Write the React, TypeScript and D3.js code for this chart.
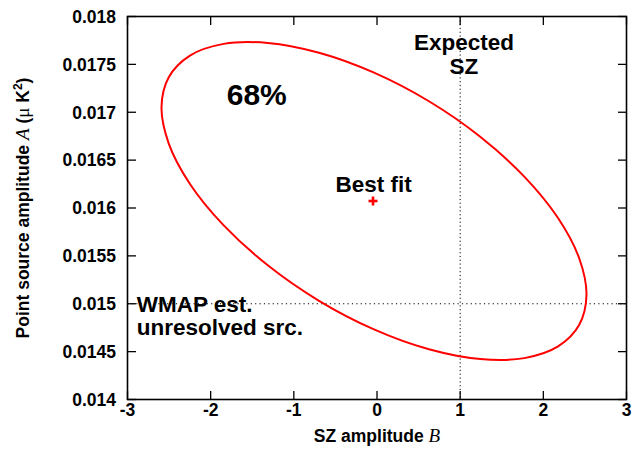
import React from "react";
import * as d3 from "d3";

const xTicks = [-3, -2, -1, 0, 1, 2, 3];
const xTickLabels = ["-3", "-2", "-1", "0", "1", "2", "3"];
const yTicks = [0.014, 0.0145, 0.015, 0.0155, 0.016, 0.0165, 0.017, 0.0175, 0.018];
const yTickLabels = ["0.014", "0.0145", "0.015", "0.0155", "0.016", "0.0165", "0.017", "0.0175", "0.018"];

// 68% contour, points (B, A)
const contourB = [
  2.519, 2.432, 2.177, 1.771, 1.2415, 0.625, -0.036, -0.697, -1.3135, -1.843, -2.249, -2.504,
  -2.591, -2.504, -2.249, -1.843, -1.3135, -0.697, -0.036, 0.625, 1.2415, 1.771, 2.177, 2.432,
];
const contourA = [
  0.015093, 0.015473, 0.015895, 0.016328, 0.016744, 0.017115, 0.017414, 0.017622, 0.017724,
  0.017714, 0.017592, 0.017366, 0.017053, 0.016673, 0.016251, 0.015818, 0.015402, 0.015031,
  0.014732, 0.014524, 0.014422, 0.014432, 0.014554, 0.01478,
];

const bestFitB = -0.048;
const bestFitA = 0.016073;
const expectedSZ = 1;
const wmapA = 0.015;

const W = 636;
const H = 454;
const left = 127.5;
const right = 626.5;
const top = 16.5;
const bottom = 399.5;

const font = "'Liberation Sans', Arial, Helvetica, sans-serif";
const serif = "'Liberation Serif', 'Times New Roman', serif";

export default function App() {
  const x = d3.scaleLinear().domain([-3, 3]).range([left, right]);
  const y = d3.scaleLinear().domain([0.014, 0.018]).range([bottom, top]);

  const pts: [number, number][] = contourB.map((b, i) => [x(b), y(contourA[i])]);
  const path = d3.line().curve(d3.curveCatmullRomClosed.alpha(0.5))(pts) || "";

  const tickLen = 8.5;
  const bx = x(bestFitB);
  const by = y(bestFitA);

  return (
    <svg width={W} height={H} style={{ position: "absolute", left: 0, top: 0, background: "#fff" }}>
      <rect x={0} y={0} width={W} height={H} fill="#fff" />
      {/* dotted reference lines */}
      <line x1={x(expectedSZ)} x2={x(expectedSZ)} y1={top} y2={bottom} stroke="#000" strokeWidth={1} strokeDasharray="1.2,2.6" />
      <line x1={left} x2={right} y1={y(wmapA)} y2={y(wmapA)} stroke="#000" strokeWidth={1} strokeDasharray="1.2,3.2" />

      {/* ticks */}
      {xTicks.map((t) => (
        <g key={"xt" + t}>
          <line x1={x(t)} x2={x(t)} y1={bottom} y2={bottom - tickLen} stroke="#000" strokeWidth={1.3} />
          <line x1={x(t)} x2={x(t)} y1={top} y2={top + tickLen} stroke="#000" strokeWidth={1.3} />
        </g>
      ))}
      {yTicks.map((t) => (
        <g key={"yt" + t}>
          <line x1={left} x2={left + tickLen} y1={y(t)} y2={y(t)} stroke="#000" strokeWidth={1.3} />
          <line x1={right} x2={right - tickLen} y1={y(t)} y2={y(t)} stroke="#000" strokeWidth={1.3} />
        </g>
      ))}

      {/* frame */}
      <rect x={left} y={top} width={right - left} height={bottom - top} fill="none" stroke="#000" strokeWidth={1.6} />

      {/* tick labels */}
      {xTicks.map((t, i) => (
        <text key={"xl" + t} x={x(t)} y={415.5} textAnchor="middle" fontFamily={font} fontWeight="bold" fontSize={17.5} fill="#000">
          {xTickLabels[i]}
        </text>
      ))}
      {yTicks.map((t, i) => (
        <text key={"yl" + t} x={116} y={y(t) + 6.3} textAnchor="end" fontFamily={font} fontWeight="bold" fontSize={17.5} fill="#000">
          {yTickLabels[i]}
        </text>
      ))}

      {/* axis titles */}
      <text x={(left + right) / 2} y={442} textAnchor="middle" fontFamily={font} fontWeight="bold" fontSize={17.5} fill="#000">
        SZ amplitude <tspan fontFamily={serif} fontStyle="italic" fontWeight="normal" fontSize={19}>B</tspan>
      </text>
      <text
        transform={`translate(29,${(top + bottom) / 2}) rotate(-90)`}
        textAnchor="middle"
        fontFamily={font}
        fontWeight="bold"
        fontSize={17.5}
        fill="#000"
      >
        Point source amplitude <tspan fontFamily={serif} fontStyle="italic" fontWeight="normal" fontSize={19}>A</tspan> (
        <tspan fontFamily={serif} fontWeight="normal" fontSize={19}>μ</tspan> K
        <tspan fontSize={12} dy={-7}>2</tspan>
        <tspan dy={7}>)</tspan>
      </text>

      {/* contour */}
      <path d={path} fill="none" stroke="#ff0000" strokeWidth={2} />

      {/* best fit marker */}
      <line x1={bx - 4.5} x2={bx + 4.5} y1={by} y2={by} stroke="#ff0000" strokeWidth={2.6} />
      <line x1={bx} x2={bx} y1={by - 4.5} y2={by + 4.5} stroke="#ff0000" strokeWidth={2.6} />

      {/* annotations */}
      <text x={x(-1.807)} y={y(0.017076)} fontFamily={font} fontWeight="bold" fontSize={30} fill="#000">68%</text>
      <text x={x(-0.04)} y={y(0.016164)} textAnchor="middle" fontFamily={font} fontWeight="bold" fontSize={22.5} fill="#000">Best fit</text>
      <text x={x(1.046)} y={y(0.017645)} textAnchor="middle" fontFamily={font} fontWeight="bold" fontSize={22.5} fill="#000">Expected</text>
      <text x={x(1.046)} y={y(0.017395)} textAnchor="middle" fontFamily={font} fontWeight="bold" fontSize={22.5} fill="#000">SZ</text>
      <text x={x(-2.889)} y={y(0.014917)} fontFamily={font} fontWeight="bold" fontSize={22.5} fill="#000">WMAP est.</text>
      <text x={x(-2.889)} y={y(0.014674)} fontFamily={font} fontWeight="bold" fontSize={22.5} fill="#000">unresolved src.</text>
    </svg>
  );
}
